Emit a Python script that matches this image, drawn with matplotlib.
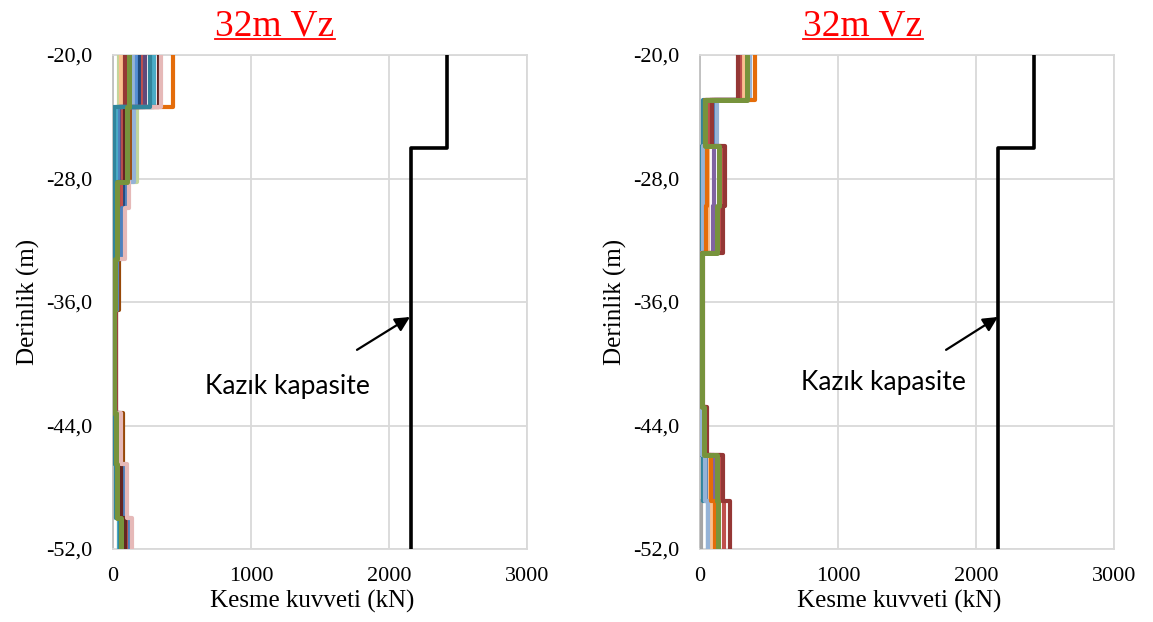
import matplotlib
matplotlib.use("Agg")
import matplotlib.pyplot as plt
from matplotlib.ticker import FuncFormatter, FixedLocator
from matplotlib.lines import Line2D

# ---------------- DATA ----------------
title_text = "32m Vz"
xlabel_text = "Kesme kuvveti (kN)"
ylabel_text = "Derinlik (m)"
annot_text = "Kazık kapasite"

x_ticks = [0, 1000, 2000, 3000]
y_ticks = [-20, -28, -36, -44, -52]

# pile capacity (black step line)
cap_x = [2420, 2420, 2160, 2160]
cap_y = [-20, -26, -26, -52]

# ---- left panel: layer boundaries and per-series shear values (kN)
left_bounds = [-20, -23.4, -28.2, -29.9, -33.2, -36.5, -43.2, -46.5, -50.0, -52]
left_colors = ['#E46C0A', '#984807', '#C3D69B', '#FAC090', '#953735', '#95B3D7',
               '#558ED5', '#1F497D', '#C0504D', '#604A7B', '#4F81BD', '#4BACC6',
               '#632523', '#E6B9B8', '#31859C', '#77933C']
left_values = [
    [435, 60, 25, 15, 10, 5, 15, 35, 55],
    [120, 120, 50, 35, 40, 20, 75, 80, 95],
    [40, 175, 60, 45, 20, 8, 30, 40, 60],
    [60, 30, 20, 15, 10, 5, 15, 30, 45],
    [90, 50, 65, 40, 30, 25, 45, 60, 80],
    [150, 150, 45, 30, 15, 5, 20, 45, 70],
    [175, 70, 40, 25, 10, 5, 25, 50, 90],
    [195, 45, 90, 55, 25, 10, 35, 70, 110],
    [215, 60, 55, 35, 20, 10, 40, 75, 100],
    [235, 40, 30, 20, 10, 5, 25, 40, 60],
    [285, 35, 100, 65, 30, 10, 50, 90, 120],
    [300, 20, 15, 10, 5, 5, 10, 20, 40],
    [330, 90, 35, 25, 15, 8, 30, 55, 85],
    [350, 110, 115, 85, 25, 12, 60, 105, 140],
    [265, 5, 10, 5, 5, 5, 15, 25, 50],
    [115, 100, 30, 30, 15, 5, 20, 30, 60],
]

# ---- right panel
right_bounds = [-20, -22.9, -25.9, -29.8, -32.8, -42.8, -45.9, -48.9, -52]
right_colors = ['#A5A5A5', '#31859C', '#403151', '#8064A2', '#4F81BD', '#FAC090',
                '#95B3D7', '#E46C0A', '#C0504D', '#953735', '#77933C']
right_values = [
    [300, 110, 20, 20, 8, 15, 25, 10],
    [320, 20, 15, 15, 5, 10, 20, 55],
    [330, 40, 35, 45, 10, 25, 45, 100],
    [345, 75, 105, 95, 12, 20, 100, 95],
    [355, 100, 30, 35, 8, 30, 60, 70],
    [310, 55, 60, 60, 10, 20, 75, 90],
    [360, 120, 25, 25, 6, 15, 35, 60],
    [400, 35, 50, 45, 12, 40, 80, 110],
    [290, 70, 150, 140, 15, 45, 150, 175],
    [275, 85, 180, 165, 20, 50, 165, 215],
    [340, 36, 140, 120, 15, 30, 120, 130],
]

# ---------------- FIGURE ----------------
fig = plt.figure(figsize=(11.53, 6.22), dpi=100)
W, H = 1153, 622

serif = ['Liberation Serif', 'DejaVu Serif']
sans = ['Lato', 'DejaVu Sans']


def step_xy(bounds, vals):
    xs, ys = [], []
    for i, v in enumerate(vals):
        xs += [v, v]
        ys += [bounds[i], bounds[i + 1]]
    return xs, ys


def setup(ax):
    ax.set_xlim(0, 3000)
    ax.set_ylim(-52, -20)
    ax.xaxis.set_major_locator(FixedLocator(x_ticks))
    ax.yaxis.set_major_locator(FixedLocator(y_ticks))
    ax.yaxis.set_major_formatter(FuncFormatter(lambda v, p: f"{v:.1f}".replace('.', ',')))
    ax.xaxis.set_major_formatter(FuncFormatter(lambda v, p: f"{v:.0f}"))
    ax.grid(True, color='#D9D9D9', lw=1.3)
    ax.set_axisbelow(True)
    for s in ax.spines.values():
        s.set_color('#D9D9D9')
        s.set_linewidth(1.3)
    ax.spines['left'].set_color('#BFBFBF')
    ax.tick_params(axis='both', length=0, labelsize=16)
    ax.tick_params(axis='y', pad=15)
    ax.tick_params(axis='x', pad=13)
    for lab in ax.get_xticklabels() + ax.get_yticklabels():
        lab.set_fontfamily(serif)
    ax.set_xlabel(xlabel_text, fontsize=18, family=serif)
    ax.xaxis.set_label_coords(0.48, -0.083)
    ax.set_ylabel(ylabel_text, fontsize=18, family=serif, labelpad=4)


panels = [
    (113, left_bounds, left_colors, left_values, 275, (1768, -39.1), (2152, -36.97), (1261, -41.5)),
    (700, right_bounds, right_colors, right_values, 863, (1783, -39.1), (2159, -36.97), (1326, -41.2)),
]

titles = []
for (px0, bounds, colors, values, tcx, a_from, a_to, tpos) in panels:
    ax = fig.add_axes([px0 / W, (H - 549) / H, 414 / W, 494 / H])
    setup(ax)
    for c, vals in zip(colors, values):
        xs, ys = step_xy(bounds, vals)
        lw = 3.6 if c == '#77933C' else 3.0
        ax.plot(xs, ys, color=c, lw=lw, solid_joinstyle='round', solid_capstyle='round', zorder=3)
    ax.plot(cap_x, cap_y, color='black', lw=2.6, zorder=4)
    ax.annotate('', xy=a_to, xytext=a_from,
                arrowprops=dict(arrowstyle='-|>', color='black', lw=1.6, mutation_scale=22,
                                shrinkA=0, shrinkB=0), zorder=5)
    ax.text(tpos[0], tpos[1], annot_text, fontsize=19, family=sans, ha='center', va='center', zorder=5)
    t = fig.text(tcx / W, 1 - 35 / H, title_text, fontsize=27, family=serif, color='#FF0000',
                 ha='center', va='baseline')
    titles.append(t)

fig.canvas.draw()
r = fig.canvas.get_renderer()
for t in titles:
    bb = t.get_window_extent(r)
    yline = (H - 38.5) / H
    fig.add_artist(Line2D([bb.x0 / W, bb.x1 / W], [yline, yline], transform=fig.transFigure,
                          color='#FF0000', lw=1.3))

fig.savefig('out.png', dpi=100)
